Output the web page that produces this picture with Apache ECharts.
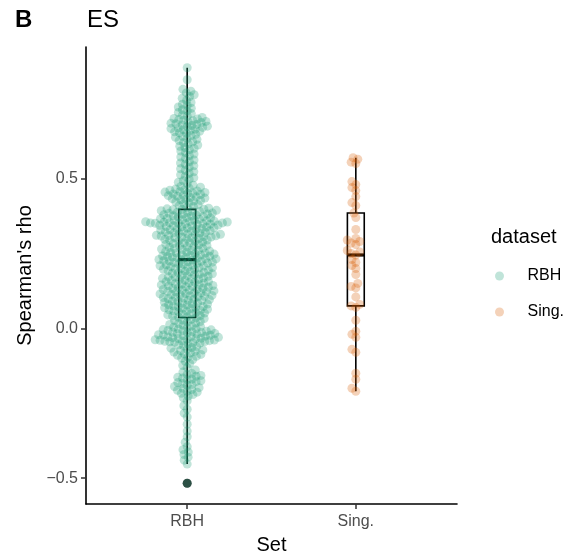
<!DOCTYPE html>
<html>
<head>
<meta charset="utf-8">
<script src="https://cdn.jsdelivr.net/npm/echarts@6/dist/echarts.min.js"></script>
<style>
  html, body { margin: 0; padding: 0; background: #ffffff; }
  #chart { width: 582px; height: 556px; }
</style>
</head>
<body>
<div id="chart"></div>
<script>
// Groups on the x axis and their colours (Dark2 palette)
const sets = ['RBH', 'Sing.'];
const setColors = ['#1B9E77', '#D95F02'];
const pointAlpha = 0.35;

// Spearman's rho per gene, RBH orthologs
const rbhRho = [
  0.87, 0.83,
  0.798, 0.792, 0.786, 0.78, 0.774, 0.768, 0.761, 0.754,
  0.748, 0.744, 0.739, 0.735, 0.73, 0.726, 0.721, 0.717, 0.712, 0.708, 0.704, 0.701,
  0.699, 0.697, 0.695, 0.693, 0.691, 0.689, 0.687, 0.685, 0.683, 0.681,
  0.679, 0.677, 0.675, 0.673, 0.671, 0.669, 0.667, 0.665, 0.663, 0.661,
  0.658, 0.656, 0.653, 0.651,
  0.648, 0.644, 0.641, 0.638, 0.634, 0.631, 0.627, 0.623, 0.62, 0.616, 0.612, 0.608, 0.604, 0.601,
  0.597, 0.592, 0.587, 0.582, 0.577, 0.572, 0.567, 0.562, 0.557, 0.552,
  0.548, 0.543, 0.538, 0.533, 0.528, 0.523, 0.518, 0.513, 0.508, 0.503,
  0.498, 0.493, 0.488, 0.483, 0.478, 0.474, 0.471, 0.468, 0.465,
  0.463, 0.461, 0.459, 0.457, 0.455, 0.454, 0.452, 0.451,
  0.449, 0.447, 0.445, 0.443, 0.441, 0.439, 0.437, 0.435, 0.433, 0.431,
  0.429, 0.427, 0.425, 0.422, 0.419, 0.416, 0.413, 0.41, 0.407, 0.404, 0.401,
  0.399, 0.398, 0.397, 0.396, 0.394, 0.393, 0.391, 0.39, 0.388, 0.387,
  0.385, 0.384, 0.382, 0.381, 0.379, 0.378, 0.376, 0.375, 0.373, 0.372,
  0.37, 0.369, 0.367, 0.366, 0.364, 0.363, 0.361, 0.36, 0.359, 0.358,
  0.357, 0.356, 0.355, 0.354, 0.353, 0.352, 0.352, 0.351, 0.351, 0.35,
  0.349, 0.348, 0.347, 0.345, 0.344, 0.343, 0.342, 0.34, 0.339, 0.338,
  0.336, 0.335, 0.333, 0.332, 0.331, 0.329, 0.328, 0.326, 0.325, 0.324,
  0.322, 0.321, 0.319, 0.318, 0.317, 0.315, 0.314, 0.313, 0.311, 0.31,
  0.309, 0.308, 0.306, 0.305, 0.304, 0.303, 0.302, 0.30,
  0.299, 0.297, 0.295, 0.294, 0.292, 0.29, 0.288, 0.286, 0.285, 0.283,
  0.281, 0.279, 0.277, 0.276, 0.274, 0.272, 0.27, 0.268, 0.267, 0.265,
  0.263, 0.261, 0.26, 0.258, 0.256, 0.255, 0.253, 0.252, 0.251,
  0.249, 0.248, 0.246, 0.245, 0.244, 0.242, 0.241, 0.24, 0.238, 0.237,
  0.236, 0.234, 0.233, 0.232, 0.23, 0.229, 0.228, 0.226, 0.225, 0.224,
  0.222, 0.221, 0.22, 0.218, 0.217, 0.215, 0.214, 0.212, 0.211, 0.209,
  0.208, 0.206, 0.205, 0.203, 0.202, 0.20,
  0.199, 0.197, 0.196, 0.194, 0.192, 0.191, 0.189, 0.187, 0.186, 0.184,
  0.182, 0.181, 0.179, 0.177, 0.176, 0.174, 0.172, 0.171, 0.169, 0.167,
  0.166, 0.164, 0.162, 0.161, 0.159, 0.157, 0.156, 0.154, 0.152, 0.151,
  0.149, 0.148, 0.146, 0.145, 0.143, 0.142, 0.14, 0.139, 0.137, 0.136,
  0.134, 0.133, 0.131, 0.13, 0.128, 0.127, 0.125, 0.124, 0.122, 0.121,
  0.119, 0.118, 0.116, 0.115, 0.113, 0.112, 0.11, 0.109, 0.107, 0.106,
  0.104, 0.103, 0.101,
  0.099, 0.097, 0.096, 0.094, 0.093, 0.091, 0.09, 0.087, 0.085,
  0.084, 0.082, 0.081, 0.079, 0.078, 0.075, 0.073, 0.072, 0.07,
  0.069, 0.067, 0.066, 0.064, 0.062, 0.06, 0.058, 0.057, 0.055, 0.053, 0.051,
  0.049, 0.047, 0.045, 0.043, 0.041, 0.039, 0.037, 0.035, 0.033, 0.03,
  0.028, 0.026, 0.023, 0.021, 0.018, 0.016, 0.013, 0.011, 0.008, 0.006,
  0.004, 0.002,
  -0.001, -0.002, -0.004, -0.005, -0.007, -0.008, -0.01, -0.011, -0.013, -0.014,
  -0.015, -0.017, -0.018, -0.019, -0.021, -0.022, -0.023, -0.025, -0.026, -0.027,
  -0.029, -0.03, -0.031, -0.033, -0.034, -0.035, -0.036, -0.038, -0.039, -0.04,
  -0.041, -0.042, -0.043, -0.044, -0.045, -0.046, -0.048, -0.049,
  -0.052, -0.055, -0.058, -0.061, -0.064, -0.066, -0.069, -0.072, -0.074,
  -0.077, -0.079, -0.082, -0.085, -0.087, -0.09, -0.093, -0.096, -0.099,
  -0.104, -0.11, -0.117, -0.124, -0.131, -0.139, -0.146,
  -0.151, -0.154, -0.157, -0.16, -0.163, -0.166, -0.169, -0.172,
  -0.175, -0.178, -0.181, -0.184, -0.187, -0.19, -0.194, -0.198,
  -0.201, -0.204, -0.207, -0.21, -0.213, -0.217, -0.221, -0.226, -0.232, -0.242,
  -0.258, -0.27, -0.283, -0.296,
  -0.32, -0.343,
  -0.362, -0.38, -0.395,
  -0.405, -0.413, -0.421, -0.43, -0.44,
  -0.453, -0.517
];

// Spearman's rho per gene, single-copy set
const singRho = [
  0.57, 0.565, 0.555, 0.55,
  0.49, 0.48, 0.47, 0.46,
  0.44, 0.42, 0.41,
  0.385, 0.37,
  0.33,
  0.30, 0.295, 0.29, 0.285, 0.28,
  0.26, 0.255, 0.25, 0.245,
  0.23, 0.22, 0.21, 0.20,
  0.18,
  0.15, 0.14, 0.135,
  0.105,
  0.08, 0.075, 0.07,
  0.027,
  -0.01, -0.02, -0.03,
  -0.07, -0.08,
  -0.15, -0.17,
  -0.2, -0.21
];

const groups = [rbhRho, singRho];
const yTicks = [-0.5, 0, 0.5];
const xTicks = [1, 2];

const FONT = '"Liberation Sans", Arial, Helvetica, sans-serif';

// R-style (type 7) quantile on a sorted array
function quantile(sorted, p) {
  const h = (sorted.length - 1) * p;
  const lo = Math.floor(h);
  const hi = Math.min(lo + 1, sorted.length - 1);
  return sorted[lo] + (h - lo) * (sorted[hi] - sorted[lo]);
}

// Tukey box statistics: whiskers reach the most extreme values within 1.5 IQR
function boxStats(vals) {
  const s = vals.slice().sort((a, b) => a - b);
  const q1 = quantile(s, 0.25), med = quantile(s, 0.5), q3 = quantile(s, 0.75);
  const iqr = q3 - q1;
  const lf = q1 - 1.5 * iqr, uf = q3 + 1.5 * iqr;
  const inside = s.filter(v => v >= lf && v <= uf);
  return {
    low: inside[0], q1, med, q3, high: inside[inside.length - 1],
    out: s.filter(v => v < lf || v > uf)
  };
}

// y range padded by 5% like the default continuous scale expansion
const allVals = rbhRho.concat(singRho);
const dMin = Math.min(...allVals), dMax = Math.max(...allVals);
const pad = (dMax - dMin) * 0.05;
const yMin = dMin - pad, yMax = dMax + pad;

const stats = groups.map(boxStats);
const boxData = stats.map((s, i) => [xTicks[i], s.low, s.q1, s.med, s.q3, s.high]);
const outlierData = [];
stats.forEach((s, i) => s.out.forEach(v => outlierData.push([xTicks[i], v])));

const chart = echarts.init(document.getElementById('chart'), null, { renderer: 'canvas' });

const axisLabelStyle = { color: '#4D4D4D', fontSize: 16, fontFamily: FONT };

const baseOption = {
  animation: false,
  backgroundColor: '#ffffff',
  title: [
    { text: 'B', left: 15, top: 8, padding: 0,
      textStyle: { fontFamily: FONT, fontSize: 24, fontWeight: 'bold', color: '#000' } },
    { text: 'ES', left: 87, top: 8, padding: 0,
      textStyle: { fontFamily: FONT, fontSize: 24, fontWeight: 'normal', color: '#000' } }
  ],
  grid: { left: 86, right: 125, top: 47, bottom: 52, containLabel: false, outerBoundsMode: 'none' },
  xAxis: {
    type: 'value', min: 0.4, max: 2.6,
    name: 'Set', nameLocation: 'middle', nameGap: 31,
    nameTextStyle: { color: '#000', fontSize: 20, fontFamily: FONT },
    splitLine: { show: false },
    axisLine: { onZero: false, lineStyle: { color: '#000', width: 1.6 } },
    axisTick: { customValues: xTicks, length: 5, lineStyle: { color: '#333', width: 1.5 } },
    axisLabel: Object.assign({ customValues: xTicks, margin: 10,
      formatter: v => sets[Math.round(v) - 1] || '' }, axisLabelStyle)
  },
  yAxis: {
    type: 'value', min: yMin, max: yMax,
    name: "Spearman's rho", nameLocation: 'middle', nameGap: 50, nameRotate: 90,
    nameTextStyle: { color: '#000', fontSize: 20, fontFamily: FONT },
    splitLine: { show: false },
    axisLine: { onZero: false, lineStyle: { color: '#000', width: 1.6 } },
    axisTick: { customValues: yTicks, length: 5, lineStyle: { color: '#333', width: 1.5 } },
    axisLabel: Object.assign({ customValues: yTicks, margin: 8,
      formatter: v => v.toFixed(1).replace('-', '\u2212') }, axisLabelStyle)
  },
  legend: {
    orient: 'vertical', left: 490, top: 263,
    itemWidth: 38, itemHeight: 9, itemGap: 20,
    icon: 'circle', selectedMode: false,
    textStyle: { color: '#000', fontSize: 16, fontFamily: FONT, lineHeight: 16, padding: [0, 0, 0, 4] },
    data: sets.map((name, i) => ({
      name,
      itemStyle: { color: echarts.color.modifyAlpha(setColors[i], pointAlpha) }
    }))
  },
  graphic: [{
    type: 'text', left: 491, top: 227,
    style: { text: 'dataset', fill: '#000', font: '20px ' + FONT }
  }],
  series: []
};

chart.setOption(baseOption);

// pixel scale of the grid, used to lay the swarm out in screen space
const p0 = chart.convertToPixel({ gridIndex: 0 }, [1, 0]);
const p1 = chart.convertToPixel({ gridIndex: 0 }, [2, 1]);
const pxPerX = Math.abs(p1[0] - p0[0]);
const pxPerY = Math.abs(p1[1] - p0[1]);

// Beeswarm: place points in ascending order at the free spot closest to the centre
function swarmOffsets(vals, spacing) {
  const order = vals.map((v, i) => i).sort((a, b) => vals[a] - vals[b]);
  const placed = [];
  const out = new Array(vals.length);
  const s2 = spacing * spacing;
  for (const i of order) {
    const y = vals[i] * pxPerY;
    const cands = [0];
    for (const p of placed) {
      const dy = Math.abs(p.y - y);
      if (dy < spacing) {
        const dx = Math.sqrt(s2 - dy * dy);
        cands.push(p.x + dx, p.x - dx);
      }
    }
    cands.sort((a, b) => Math.abs(a) - Math.abs(b) || a - b);
    let best = 0;
    for (const c of cands) {
      let ok = true;
      for (const p of placed) {
        const dx = p.x - c, dy = p.y - y;
        if (dx * dx + dy * dy < s2 - 1e-6) { ok = false; break; }
      }
      if (ok) { best = c; break; }
    }
    placed.push({ x: best, y });
    out[i] = best;
  }
  return out;
}

const SPACING = 4.9;
const pointSeries = groups.map((vals, gi) => {
  const offs = swarmOffsets(vals, SPACING);
  return {
    name: sets[gi],
    type: 'scatter',
    z: 3,
    symbol: 'circle',
    symbolSize: 9,
    itemStyle: { color: echarts.color.modifyAlpha(setColors[gi], pointAlpha), borderWidth: 0 },
    emphasis: { disabled: true },
    data: vals.map((v, k) => [xTicks[gi] + offs[k] / pxPerX, v])
  };
});

const boxSeries = {
  name: 'box',
  type: 'custom',
  z: 1,
  data: boxData,
  renderItem: function (params, api) {
    const x = api.value(0);
    const lo = api.coord([x, api.value(1)]);
    const q1 = api.coord([x, api.value(2)]);
    const md = api.coord([x, api.value(3)]);
    const q3 = api.coord([x, api.value(4)]);
    const hi = api.coord([x, api.value(5)]);
    const hw = api.size([0.1, 0])[0] / 2;
    const stroke = { stroke: '#000', lineWidth: 1.6, fill: null };
    return {
      type: 'group',
      children: [
        { type: 'line', shape: { x1: lo[0], y1: lo[1], x2: q1[0], y2: q1[1] }, style: stroke },
        { type: 'line', shape: { x1: q3[0], y1: q3[1], x2: hi[0], y2: hi[1] }, style: stroke },
        { type: 'rect', shape: { x: q3[0] - hw, y: q3[1], width: 2 * hw, height: q1[1] - q3[1] },
          style: { stroke: '#000', lineWidth: 1.6, fill: 'transparent' } },
        { type: 'line', shape: { x1: md[0] - hw, y1: md[1], x2: md[0] + hw, y2: md[1] },
          style: { stroke: '#000', lineWidth: 3.2 } }
      ]
    };
  }
};

const outlierSeries = {
  name: 'outliers',
  type: 'scatter',
  z: 2,
  symbol: 'circle',
  symbolSize: 9,
  itemStyle: { color: '#000' },
  emphasis: { disabled: true },
  data: outlierData
};

chart.setOption({ series: [boxSeries, outlierSeries].concat(pointSeries) });
</script>
</body>
</html>
